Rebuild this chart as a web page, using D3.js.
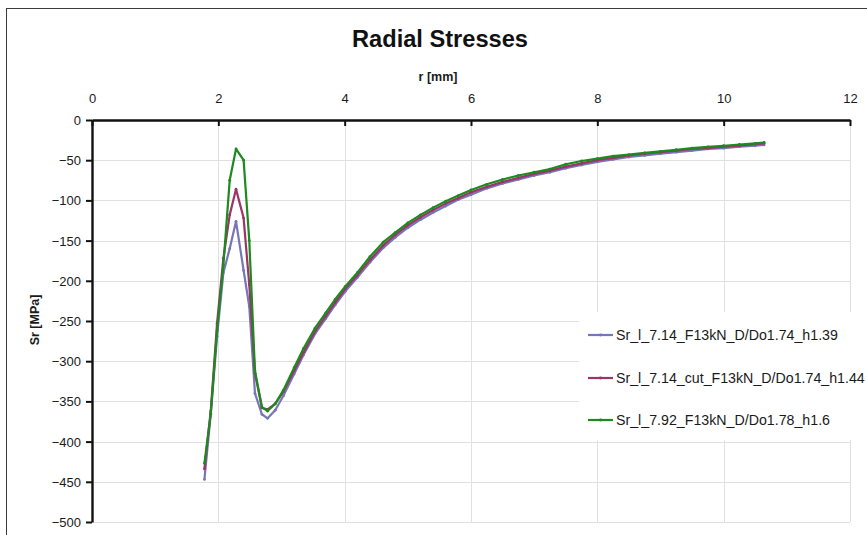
<!DOCTYPE html>
<html>
<head>
<meta charset="utf-8">
<script src="https://cdn.jsdelivr.net/npm/d3@7"></script>
<style>
  html, body { margin: 0; padding: 0; background: #fff; overflow: hidden; }
  svg { display: block; font-family: "Liberation Sans", Arial, sans-serif; }
</style>
</head>
<body>
<svg id="chart" width="867" height="535"></svg>
<script>
// Radial position r [mm], shared by all three series
const radius = [1.78, 1.88, 1.98, 2.08, 2.18, 2.28, 2.40, 2.49, 2.58, 2.69, 2.78, 2.90,
  3.03, 3.20, 3.35, 3.53, 3.70, 3.85, 4.01, 4.20, 4.40, 4.61, 4.80, 5.00, 5.20, 5.40,
  5.60, 5.80, 6.00, 6.25, 6.50, 6.75, 7.00, 7.25, 7.50, 7.75, 8.00, 8.25, 8.50, 8.75,
  9.00, 9.25, 9.50, 9.75, 10.00, 10.25, 10.50, 10.64];

// Radial stress Sr [MPa]
const srL714 = [-447, -366, -269, -190, -160, -126, -187, -232, -340, -366, -371, -361,
  -343, -316, -292, -266, -247, -230, -213, -196, -177, -159, -146, -134, -124, -115,
  -107, -99, -93, -85, -79, -74, -69, -65, -60, -56, -52, -49, -46, -44,
  -42, -40, -38, -36, -35, -33, -32, -31];
const srL714cut = [-434, -362, -253, -172, -118, -86, -122, -205, -315, -358, -360, -353,
  -338, -312, -289, -263, -244, -227, -210, -193, -174, -156, -143, -131, -121, -112,
  -104, -97, -90, -83, -77, -72, -67, -63, -58, -54, -50, -47, -44, -42,
  -40, -38, -36, -35, -33, -32, -30, -29];
const srL792 = [-427, -365, -262, -180, -75, -36, -50, -150, -312, -357, -362, -353,
  -336, -308, -284, -259, -240, -223, -207, -190, -170, -152, -140, -128, -118, -109,
  -101, -94, -87, -80, -74, -69, -65, -61, -55, -51, -48, -45, -43, -41,
  -39, -37, -35, -33.5, -32, -30.5, -29, -28];

const seriesNames = [
  "Sr_l_7.14_F13kN_D/Do1.74_h1.39",
  "Sr_l_7.14_cut_F13kN_D/Do1.74_h1.44",
  "Sr_l_7.92_F13kN_D/Do1.78_h1.6"
];
const seriesColors = ["#7676b8", "#9b3468", "#1d8a1d"];
const seriesValues = [srL714, srL714cut, srL792];

const xTicks = [0, 2, 4, 6, 8, 10, 12];
const yTicks = [0, -50, -100, -150, -200, -250, -300, -350, -400, -450, -500];

const svg = d3.select("#chart");

// chart frame
svg.append("rect")
  .attr("x", 6.5).attr("y", 8.5).attr("width", 880).attr("height", 560)
  .attr("fill", "#fff").attr("stroke", "#3a3a3a").attr("stroke-width", 1);

const x = d3.scaleLinear().domain([0, 12]).range([92, 850]);
const y = d3.scaleLinear().domain([0, -500]).range([120, 522]);

// gridlines
const grid = svg.append("g").attr("stroke", "#e0e0e0").attr("stroke-width", 1);
grid.selectAll(".h").data(yTicks.slice(1)).join("line")
  .attr("x1", x(0)).attr("x2", x(12))
  .attr("y1", d => Math.round(y(d)) + 0.5).attr("y2", d => Math.round(y(d)) + 0.5);
grid.selectAll(".v").data(xTicks.slice(1)).join("line")
  .attr("y1", y(0)).attr("y2", y(-500))
  .attr("x1", d => Math.round(x(d)) + 0.5).attr("x2", d => Math.round(x(d)) + 0.5);

// axes
const xAxis = svg.append("g").attr("transform", `translate(0,${y(0)})`)
  .call(d3.axisTop(x).tickValues(xTicks).tickFormat(d3.format("d"))
    .tickSizeInner(-6).tickSizeOuter(0).tickPadding(17));
const yAxis = svg.append("g").attr("transform", `translate(${x(0)},0)`)
  .call(d3.axisLeft(y).tickValues(yTicks).tickFormat(d3.format("d"))
    .tickSizeInner(6).tickSizeOuter(0).tickPadding(5));

[xAxis, yAxis].forEach(g => {
  g.select(".domain").attr("stroke", "#111").attr("stroke-width", 2.4);
  g.selectAll(".tick line").attr("stroke", "#111").attr("stroke-width", 2);
  g.selectAll(".tick text").attr("fill", "#1a1a1a").attr("font-size", 13)
    .attr("font-family", "'Liberation Sans', Arial, sans-serif");
});
yAxis.selectAll(".tick text").attr("dy", "0.35em");

// titles
svg.append("text").attr("x", 440).attr("y", 47).attr("text-anchor", "middle")
  .attr("font-size", 23).attr("font-weight", "bold").attr("fill", "#111")
  .attr("textLength", 176).attr("lengthAdjust", "spacingAndGlyphs")
  .text("Radial Stresses");
svg.append("text").attr("x", 438).attr("y", 81).attr("text-anchor", "middle")
  .attr("font-size", 12.5).attr("font-weight", "bold").attr("fill", "#1a1a1a")
  .text("r [mm]");
svg.append("text").attr("transform", "translate(39,320) rotate(-90)")
  .attr("text-anchor", "middle").attr("font-size", 12.5).attr("font-weight", "bold")
  .attr("fill", "#1a1a1a").text("Sr [MPa]");

// series
const line = d3.line().x(d => x(d[0])).y(d => y(d[1]));
seriesValues.forEach((vals, i) => {
  const pts = radius.map((r, k) => [r, vals[k]]);
  svg.append("path").datum(pts)
    .attr("fill", "none").attr("stroke", seriesColors[i])
    .attr("stroke-width", 2.2).attr("stroke-linejoin", "round")
    .attr("d", line);
  svg.append("g").selectAll("circle").data(pts).join("circle")
    .attr("cx", d => x(d[0])).attr("cy", d => y(d[1])).attr("r", 1.4)
    .attr("fill", seriesColors[i]);
});

// legend
const legend = svg.append("g");
legend.append("rect").attr("x", 579).attr("y", 312).attr("width", 300).attr("height", 128)
  .attr("fill", "#fff");
const legendY = [335, 378, 420];
const labels = [];
seriesNames.forEach((name, i) => {
  legend.append("line").attr("x1", 588).attr("x2", 613)
    .attr("y1", legendY[i]).attr("y2", legendY[i])
    .attr("stroke", seriesColors[i]).attr("stroke-width", 2.2);
  legend.append("circle").attr("cx", 600.5).attr("cy", legendY[i]).attr("r", 1.4)
    .attr("fill", seriesColors[i]);
  labels.push(legend.append("text").attr("x", 616).attr("y", legendY[i]).attr("dy", "0.36em")
    .attr("font-size", 13).attr("fill", "#1a1a1a").text(name));
});
// size legend text so the first label spans its box width
const w0 = labels[0].node().getComputedTextLength();
const fs = 13 * 222 / w0;
labels.forEach(t => t.attr("font-size", fs));
</script>
</body>
</html>
